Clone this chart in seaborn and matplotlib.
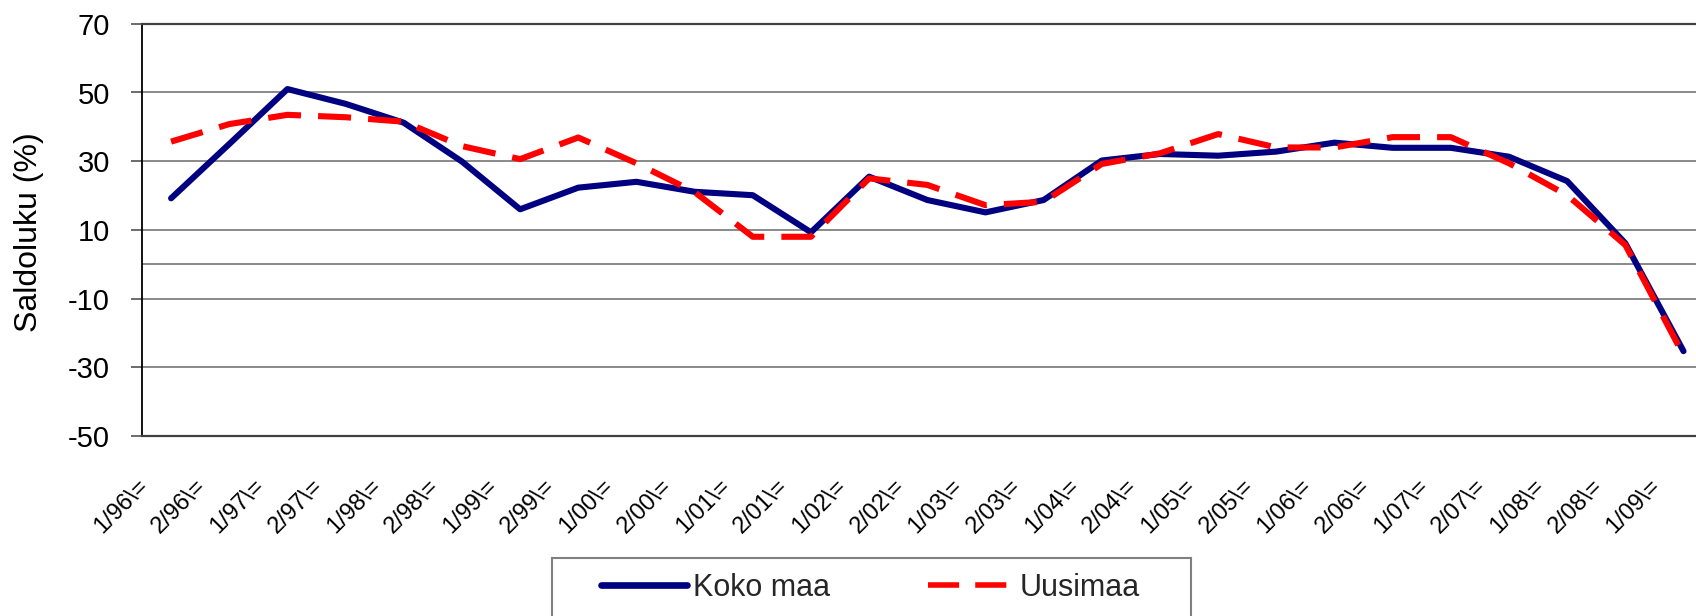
import matplotlib
matplotlib.use("Agg")
import matplotlib.pyplot as plt
import matplotlib.transforms as mtransforms
from matplotlib.patches import Rectangle
from matplotlib.lines import Line2D
import seaborn as sns
import pandas as pd

# ---- data ----
categories = ["1/96\\=", "2/96\\=", "1/97\\=", "2/97\\=", "1/98\\=", "2/98\\=",
              "1/99\\=", "2/99\\=", "1/00\\=", "2/00\\=", "1/01\\=", "2/01\\=",
              "1/02\\=", "2/02\\=", "1/03\\=", "2/03\\=", "1/04\\=", "2/04\\=",
              "1/05\\=", "2/05\\=", "1/06\\=", "2/06\\=", "1/07\\=", "2/07\\=",
              "1/08\\=", "2/08\\=", "1/09\\="]
koko_maa = [19.2, 35.0, 51.0, 46.7, 41.2, 29.9, 16.0, 22.3, 24.0, 21.1, 20.1, 9.3,
            25.5, 18.7, 15.1, 18.7, 30.2, 32.1, 31.6, 32.8, 35.4, 33.9, 33.9, 31.3,
            24.2, 6.1, -25.3]
uusimaa = [35.7, 40.8, 43.5, 42.8, 41.5, 34.4, 30.6, 36.9, 29.4, 21.0, 8.0, 8.0,
           25.0, 23.1, 17.2, 18.2, 29.2, 32.3, 37.9, 34.0, 34.0, 37.0, 37.0, 29.4,
           20.1, 5.6, -26.5]
series_names = ["Koko maa", "Uusimaa"]
yticks = [-50, -30, -10, 10, 30, 50, 70]
ylabel = "Saldoluku (%)"

sns.set_theme(style="white")
plt.rcParams["font.family"] = ["Liberation Sans", "DejaVu Sans"]

W, H, DPI = 1696, 616, 100
fig = plt.figure(figsize=(W / DPI, H / DPI), dpi=DPI)
fig.patch.set_facecolor("white")

left_px, right_px, top_px, bot_px = 142, 1712.6, 23.8, 436
ax_w = right_px - left_px
ax = fig.add_axes([left_px / W, (H - bot_px) / H, ax_w / W, (bot_px - top_px) / H])
ax.set_facecolor("white")

df = pd.DataFrame({
    "cat": categories * 2,
    "val": koko_maa + uusimaa,
    "series": [series_names[0]] * len(categories) + [series_names[1]] * len(categories),
})
colors = {"Koko maa": "#000080", "Uusimaa": "#FF0000"}
dashes = {"Koko maa": "", "Uusimaa": (5.4, 2.8)}

# reference lines
ax.set_axisbelow(True)
ax.yaxis.grid(True, color="#808080", linewidth=1.3)
ax.xaxis.grid(False)
ax.axhline(0, color="#808080", linewidth=1.3, zorder=1)

sns.lineplot(data=df, x="cat", y="val", hue="series", style="series",
             palette=colors, dashes=dashes, linewidth=4.4, legend=False,
             ax=ax, zorder=3)

ax.set_xlim(-0.5, 26.5)
ax.set_ylim(-50, 70)
ax.set_yticks(yticks)
ax.set_yticklabels([str(v) for v in yticks], fontsize=21, color="black")
ax.set_xticks(range(len(categories)))
ax.set_xticklabels(categories, fontsize=17, rotation=45, ha="right", va="top",
                   rotation_mode="anchor", color="black")
ax.tick_params(axis="y", which="major", left=True, length=8, width=1.3,
               color="#606060", pad=15)
ax.tick_params(axis="x", which="major", bottom=False, length=0, pad=28)
offset = mtransforms.ScaledTranslation(-34 / DPI, 0, fig.dpi_scale_trans)
for lab in ax.get_xticklabels():
    lab.set_transform(lab.get_transform() + offset)

ax.set_xlabel("")
ax.set_ylabel(ylabel, fontsize=23, color="black")
ax.yaxis.set_label_coords(-(left_px - 44) / ax_w, 0.495)

for side in ["top", "bottom"]:
    ax.spines[side].set_visible(True)
    ax.spines[side].set_color("#404040")
    ax.spines[side].set_linewidth(1.6)
ax.spines["left"].set_visible(True)
ax.spines["left"].set_color("black")
ax.spines["left"].set_linewidth(1.3)
ax.spines["right"].set_visible(False)

# legend frame
frame = Rectangle((552 / W, 1 - 640 / H), (1191 - 552) / W, (640 - 558) / H,
                  transform=fig.transFigure, facecolor="white", edgecolor="#808080",
                  linewidth=1.5, clip_on=False, zorder=5)
fig.patches.append(frame)

handles = [
    Line2D([], [], color=colors["Koko maa"], linewidth=4.8),
    Line2D([], [], color=colors["Uusimaa"], linewidth=4.0, dashes=(5.6, 2.9)),
]
leg = fig.legend(handles, series_names, loc="center left",
                 bbox_to_anchor=(601 / W, 1 - 588 / H), ncol=2, frameon=False,
                 fontsize=22, handlelength=2.8, handletextpad=0.2,
                 columnspacing=3.2, borderpad=0, borderaxespad=0)
leg.set_zorder(6)

fig.savefig("out.png", dpi=DPI, facecolor="white")
